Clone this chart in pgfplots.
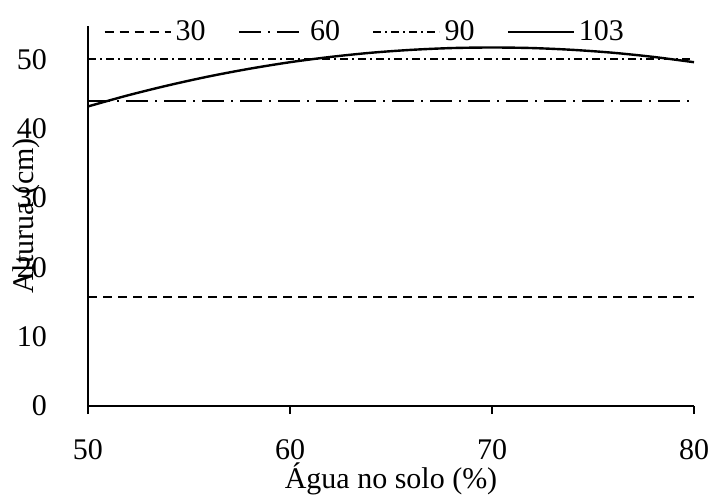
\documentclass[border=0pt]{standalone}
\usepackage{fontspec}
\setmainfont{Liberation Serif}
\usepackage{pgfplots}
\pgfplotsset{compat=1.18}
\begin{document}
\begin{tikzpicture}[font=\fontsize{15}{18}\selectfont]
\path[use as bounding box] (-44pt,-44pt) rectangle (311pt,203pt);
\begin{axis}[
  scale only axis, width=303pt, height=190pt,
  xmin=50, xmax=80, ymin=0, ymax=54.8,
  axis lines=left, axis line style={-, line width=1.1pt},
  xtick={50,60,70,80}, ytick={0,10,20,30,40,50},
  tick align=outside, major tick length=4pt,
  xtick style={line width=1.1pt, black},
  ytick style={draw=none},
  /pgf/number format/assume math mode=true,
  xticklabel style={yshift=-9pt},
  yticklabel style={xshift=-13pt},
  xlabel={Água no solo (\%)},
  ylabel={Alturua (cm)},
  xlabel style={at={(axis description cs:0.5,0)}, anchor=center, yshift=-36.5pt},
  ylabel style={at={(axis description cs:-0.102,0.5)}, anchor=center},
  legend columns=4,
  legend style={draw=none, fill=none, inner sep=0pt, at={(axis cs:50.74,53.9)}, anchor=west,
    /tikz/every even column/.append style={column sep=14pt}},
  legend image code/.code={\draw[#1] (0pt,0pt) -- (33pt,0pt);},
  every axis plot/.append style={black, line width=1.2pt},
]
\addplot[dash pattern=on 4.5pt off 3pt] coordinates {(50,15.7) (80,15.7)};
\addlegendentry{30}
\addplot[dash pattern=on 11pt off 3.5pt on 1pt off 3.5pt] coordinates {(50,44.0) (80,44.0)};
\addlegendentry{60}
\addplot[dash pattern=on 4pt off 2pt on 1pt off 2pt] coordinates {(50,50.0) (80,50.0)};
\addlegendentry{90}
\addplot[solid, smooth] coordinates {
(50,43.2) (52,44.82) (54,46.26) (56,47.54) (58,48.64) (60,49.58) (62,50.34) (64,50.94)
(66,51.36) (68,51.62) (70,51.7) (72,51.62) (74,51.36) (76,50.94) (78,50.34) (80,49.58)};
\addlegendentry{103}
\end{axis}
\end{tikzpicture}
\end{document}
